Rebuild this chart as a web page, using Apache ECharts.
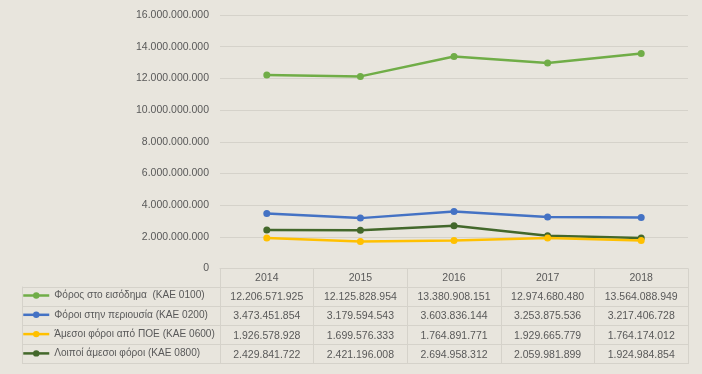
<!DOCTYPE html>
<html>
<head>
<meta charset="utf-8">
<script src="https://cdn.jsdelivr.net/npm/echarts@6/dist/echarts.min.js"></script>
<style>
html,body{margin:0;padding:0;background:#E8E5DD;}
#c{width:702px;height:374px;}
</style>
</head>
<body>
<div id="c"></div>
<script>
// ---- data ----
var years = ['2014', '2015', '2016', '2017', '2018'];
var seriesNames = [
  'Φόρος στο εισόδημα  (ΚΑΕ 0100)',
  'Φόροι στην περιουσία (ΚΑΕ 0200)',
  'Άμεσοι φόροι από ΠΟΕ (ΚΑΕ 0600)',
  'Λοιποί άμεσοι φόροι (ΚΑΕ 0800)'
];
var incomeTax   = [12206571925, 12125828954, 13380908151, 12974680480, 13564088949];
var propertyTax = [3473451854, 3179594543, 3603836144, 3253875536, 3217406728];
var poeTax      = [1926578928, 1699576333, 1764891771, 1929665779, 1764174012];
var otherTax    = [2429841722, 2421196008, 2694958312, 2059981899, 1924984854];
var yMin = 0, yMax = 16000000000, yStep = 2000000000;

// ---- styling ----
var colors = ['#70AD47', '#4472C4', '#FFC000', '#43682B'];
var allValues = [incomeTax, propertyTax, poeTax, otherTax];
var textColor = '#595959';
var lineColor = '#D5D2CA';
var font = 'Liberation Sans';
var fs = 10.5;
var rowH = 19.3;

function fmt(v) {
  return String(v).replace(/\B(?=(\d{3})+(?!\d))/g, '.');
}

var xAxes = [{
  type: 'category',
  gridIndex: 0,
  data: years,
  position: 'bottom',
  boundaryGap: true,
  axisLine: { show: true, lineStyle: { color: lineColor, width: 1 } },
  axisTick: { show: true, interval: 0, length: rowH * 5 - 1, lineStyle: { color: lineColor } },
  axisLabel: { color: textColor, fontFamily: font, fontSize: fs, margin: 4 },
  splitLine: { show: false }
}];
allValues.forEach(function (arr, k) {
  xAxes.push({
    type: 'category',
    gridIndex: 0,
    data: arr.map(fmt),
    position: 'bottom',
    offset: rowH * (k + 1),
    axisLine: { show: false },
    axisTick: { show: false },
    axisLabel: { color: textColor, fontFamily: font, fontSize: fs, margin: 4, interval: 0 },
    splitLine: { show: false }
  });
});
// helper axis for table grid
xAxes.push({ type: 'value', gridIndex: 1, show: false, min: 0, max: 1 });

var series = allValues.map(function (arr, i) {
  return {
    name: seriesNames[i],
    type: 'line',
    xAxisIndex: 0,
    yAxisIndex: 0,
    data: arr,
    symbol: 'circle',
    symbolSize: 7,
    lineStyle: { width: 2.5, color: colors[i] },
    itemStyle: { color: colors[i] },
    animation: false,
    z: 10 - i
  };
});

var legends = seriesNames.map(function (name, k) {
  return {
    orient: 'vertical',
    left: 22,
    top: 290.5 + k * rowH,
    padding: 0,
    itemWidth: 26,
    itemHeight: 8,
    itemGap: 0,
    lineStyle: { width: 2.5 },
    textStyle: { color: textColor, fontFamily: font, fontSize: 10.1 },
    data: [name]
  };
});

var chart = echarts.init(document.getElementById('c'), null, { renderer: 'canvas' });
chart.setOption({
  backgroundColor: '#E8E5DD',
  animation: false,
  grid: [
    { left: 220, right: 14, top: 15, bottom: 105.5, containLabel: false },
    { left: 22, right: 14, top: 287, bottom: 11, containLabel: false }
  ],
  legend: legends,
  xAxis: xAxes,
  yAxis: [{
    type: 'value',
    gridIndex: 0,
    min: yMin,
    max: yMax,
    interval: yStep,
    axisLine: { show: false },
    axisTick: { show: false },
    axisLabel: { color: textColor, fontFamily: font, fontSize: fs, margin: 11, formatter: fmt },
    splitLine: { show: true, lineStyle: { color: lineColor, width: 1 } }
  }, {
    type: 'value',
    gridIndex: 1,
    min: 0,
    max: 4,
    interval: 1,
    inverse: true,
    axisLine: { show: true, lineStyle: { color: lineColor } },
    axisTick: { show: false },
    axisLabel: { show: false },
    splitLine: { show: true, showMinLine: true, showMaxLine: true, lineStyle: { color: lineColor, width: 1 } }
  }],
  series: series
});
</script>
</body>
</html>
